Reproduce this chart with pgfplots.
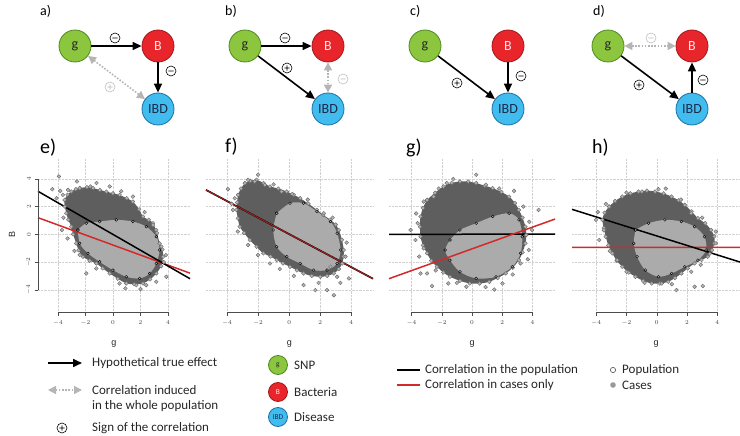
\documentclass[border=0pt]{standalone}
\usepackage{pgfplots}
\pgfplotsset{compat=1.18}
\usepackage{fontspec}
\setmainfont{Carlito}
\newfontfamily\arial{Liberation Sans}
\usetikzlibrary{arrows.meta}

\definecolor{popgray}{HTML}{5E5E5E}
\definecolor{casegray}{HTML}{ABABAB}
\definecolor{ptgray}{HTML}{6A6A6A}
\definecolor{ptfill}{HTML}{B4B4B4}
\definecolor{linered}{HTML}{D22A2A}
\definecolor{snpgreen}{HTML}{8CC63F}
\definecolor{snpedge}{HTML}{4E8A1E}
\definecolor{bacred}{HTML}{E8252A}
\definecolor{bacedge}{HTML}{A3181C}
\definecolor{ibdblue}{HTML}{40BDEE}
\definecolor{ibdedge}{HTML}{1E6FA8}
\definecolor{ibdtext}{HTML}{1A2B4C}
\definecolor{corrgray}{HTML}{B5B5B5}

\pgfplotsset{
  panel/.style={
    scale only axis, height=154pt,
    ymin=-5.6, ymax=5.5,
    axis x line*=bottom, axis y line*=left,
    axis line style={draw=none},
    xtick={-4,-2,0,2,4}, ytick={-4,-2,0,2,4},
    tick align=outside, major tick length=3.5pt,
    tick style={black!70, line width=0.5pt},
    grid=major, major grid style={densely dotted, black!18, line width=0.5pt},
    x tick label style={font=\arial\fontsize{6}{7}\selectfont, text=black!75, yshift=-1.5pt},
    y tick label style={font=\arial\fontsize{6}{7}\selectfont, text=black!75, rotate=90, anchor=south},
    xlabel={g}, xlabel style={font=\arial\fontsize{9}{10}\selectfont, text=black!85, yshift=-9pt},
    clip=false,
  },
  noy/.style={yticklabels={}, y tick style={draw=none}},
  pop/.style={fill=popgray, draw=none, smooth, tension=0.5, mark=*, mark size=1.9pt,
    mark options={fill=ptfill, draw=ptgray, line width=0.4pt}},
  cas/.style={fill=casegray, draw=none, smooth, tension=0.5, mark=*, mark size=1.4pt,
    mark options={fill=casegray, draw=none}},
  pts/.style={only marks, mark=*, mark size=1.9pt,
    mark options={fill=ptfill, draw=ptgray, line width=0.4pt}},
  blk/.style={black, line width=1.5pt, no marks},
  rdl/.style={linered, line width=1.5pt, no marks},
}

\tikzset{
  nd/.style={circle, minimum size=32pt, inner sep=0pt, line width=0.8pt, font=\fontsize{14}{14}\selectfont},
  gn/.style={nd, fill=snpgreen, draw=snpedge, text=black!85},
  bn/.style={nd, fill=bacred, draw=bacedge, text=white!92!red},
  ibdn/.style={nd, fill=ibdblue, draw=ibdedge, text=ibdtext},
  small/.style={minimum size=19pt, font=\fontsize{7.5}{8}\selectfont},
  tru/.style={line width=1.6pt, -{Triangle[length=9pt,width=8pt]}},
  cor/.style={corrgray, line width=1.6pt, dash pattern=on 1.6pt off 1.6pt,
    {Triangle[length=8pt,width=8pt]}-{Triangle[length=8pt,width=8pt]}},
  lab/.style={anchor=west, font=\fontsize{14}{14}\selectfont, inner sep=0pt},
  biglab/.style={anchor=west, font=\fontsize{20}{20}\selectfont, inner sep=0pt},
  leg/.style={anchor=west, font=\fontsize{13}{15}\selectfont, inner sep=0pt, text=black!85},
}

\newcommand{\sgnm}[3][black]{\draw[#1, line width=0.6pt] (#2,#3) circle (5pt) ({#2-2.6},#3) -- ({#2+2.6},#3);}
\newcommand{\sgnp}[3][black]{\draw[#1, line width=0.6pt] (#2,#3) circle (5pt) ({#2-2.6},#3) -- ({#2+2.6},#3) (#2,{#3-2.6}) -- (#2,{#3+2.6});}

\begin{document}
\begin{tikzpicture}
\path[use as bounding box] (0,0) rectangle (740pt,-436pt);

% ---------- panel e ----------
\begin{axis}[panel, at={(38pt,-312pt)}, anchor=south west, width=152pt,
  xmin=-5.45, xmax=5.6]
\addplot[pop] coordinates {(-2.42,3.33) (-1.9,3.4) (-1.45,3.33) (-0.95,3.2) (-0.48,3.08)
  (0.0,2.95) (0.48,2.84) (1.0,2.6) (1.45,2.36) (1.9,1.8) (2.18,1.28) (2.6,1.05) (2.91,0.8)
  (3.2,0.1) (3.39,-0.65) (3.6,-1.1) (3.64,-1.61) (3.5,-2.3) (3.15,-2.82) (2.7,-3.25)
  (2.18,-3.54) (1.55,-3.6) (0.97,-3.54) (0.35,-3.2) (-0.24,-2.82) (-0.75,-2.45)
  (-1.21,-2.1) (-1.7,-1.9) (-2.18,-1.61) (-2.5,-1.15) (-2.67,-0.65) (-2.9,0.0)
  (-3.03,0.55) (-3.25,1.05) (-3.39,1.52) (-3.5,2.0) (-3.52,2.48) (-3.3,2.85) (-3.03,3.08)
  (-2.7,3.25) (-2.42,3.33)};
\addplot[cas] coordinates {(-2.55,0.31) (-1.94,0.8) (-0.97,0.92) (0.24,1.04) (1.45,0.92)
  (2.42,0.55) (3.15,-0.17) (3.39,-1.13) (3.15,-2.1) (2.67,-2.82) (1.94,-3.18) (0.97,-3.06)
  (0,-2.58) (-0.97,-1.98) (-1.82,-1.37) (-2.42,-0.65) (-2.55,0.31)};
\addplot[pts] coordinates {(-3.93,4.17) (-4.41,3.25) (-3.83,3.13) (-3.64,2.84) (-3.27,3.2)
  (-2.62,3.81) (-1.65,3.45) (-3.71,0.31) (-2.42,-1.49) (-1.21,-2.46) (0.48,-3.54)
  (1.7,-3.66) (2.42,-3.66) (3.15,-3.42) (3.88,-3.06) (3.52,-0.89) (3.15,0.31) (2.91,0.67)
  (-1.94,-2.82) (-0.24,3.45) (1.45,2.72) (-3.6,1.2) (-3.3,-0.3) (-2.8,-1.2) (0.9,-3.9)
  (2.0,-3.95) (3.7,-2.0) (3.85,-1.5) (2.3,1.6) (0.6,3.1) (-1.2,3.7) (-4.1,2.6)};
\addplot[rdl] coordinates {(-5.45,1.2) (5.6,-2.8)};
\addplot[blk] coordinates {(-5.45,3.1) (5.6,-3.2)};
\draw[black!70, line width=0.5pt] (axis cs:-4,-5.6) -- (axis cs:4,-5.6);
\draw[black!70, line width=0.5pt] (axis cs:-5.45,-4) -- (axis cs:-5.45,4);
\end{axis}

% ---------- panel f ----------
\begin{axis}[panel, noy, at={(206pt,-312pt)}, anchor=south west, width=167pt,
  xmin=-5.35, xmax=5.4]
\addplot[pop] coordinates {(-2.85,3.69) (-2.5,3.85) (-2.1,3.93) (-1.65,3.7) (-1.23,3.45)
  (-0.7,3.3) (-0.15,3.08) (0.3,2.85) (0.71,2.6) (1.25,2.2) (1.79,1.76) (2.2,1.4)
  (2.66,1.04) (3.0,0.7) (3.2,0.31) (3.4,-0.4) (3.52,-1.13) (3.5,-1.6) (3.42,-2.1)
  (3.2,-2.5) (2.88,-2.82) (2.45,-3.0) (2.01,-3.06) (1.45,-3.0) (0.93,-2.82) (0.5,-2.6)
  (0.06,-2.34) (-0.4,-2.1) (-0.8,-1.86) (-1.2,-1.6) (-1.66,-1.37) (-2.1,-0.9)
  (-2.53,-0.41) (-2.9,0.1) (-3.18,0.55) (-3.3,1.15) (-3.39,1.76) (-3.35,2.3) (-3.29,2.84)
  (-3.1,3.3) (-2.85,3.69)};
\addplot[cas] coordinates {(-0.8,1.52) (0.06,2.24) (0.93,2.24) (1.79,1.64) (2.66,0.92)
  (3.09,0.07) (3.31,-1.13) (3.09,-2.1) (2.44,-2.58) (1.58,-2.58) (0.71,-2.1) (-0.15,-1.61)
  (-0.8,-0.89) (-1.02,0.31) (-0.8,1.52)};
\addplot[pts] coordinates {(-3.94,3.25) (-3.5,2.6) (-2.21,3.81) (-1.56,3.57) (-0.48,3.08)
  (2.23,1.52) (3.63,-1.61) (3.85,-3.18) (2.88,-4.39) (2.44,-4.02) (1.69,-4.02) (0.93,-3.66)
  (-1.23,-2.1) (-2.64,-0.77) (-3.61,1.76) (3.09,-3.06) (2.66,-2.34) (-2.64,3.93) (0.2,2.9)
  (-2.0,4.3) (-1.0,3.6) (1.2,2.5) (2.8,1.2) (3.7,-0.6) (3.3,-3.5) (0.3,-3.0) (-0.6,-2.5)
  (-2.0,-1.5) (-3.3,0.2) (-3.7,2.2) (1.9,-3.5)};
\addplot[blk, line width=1.7pt] coordinates {(-5.35,3.2) (5.4,-3.2)};
\addplot[linered!75!black, line width=1.1pt, no marks] coordinates {(-5.35,3.2) (5.4,-3.2)};
\draw[black!70, line width=0.5pt] (axis cs:-4,-5.6) -- (axis cs:4,-5.6);
\end{axis}

% ---------- panel g ----------
\begin{axis}[panel, noy, at={(389pt,-312pt)}, anchor=south west, width=166pt,
  xmin=-5.5, xmax=5.5]
\addplot[pop] coordinates {(-2.98,2.48) (-2.45,3.0) (-1.89,3.45) (-1.35,3.7) (-0.8,3.81)
  (-0.25,3.8) (0.28,3.69) (0.85,3.5) (1.37,3.33) (1.95,3.05) (2.46,2.72) (2.85,2.25)
  (3.11,1.76) (3.35,1.2) (3.54,0.55) (3.6,-0.05) (3.54,-0.65) (3.35,-1.3) (3.11,-1.86)
  (2.7,-2.4) (2.24,-2.82) (1.7,-3.15) (1.15,-3.42) (0.5,-3.55) (-0.15,-3.54) (-0.8,-3.35)
  (-1.46,-3.06) (-1.9,-2.75) (-2.33,-2.34) (-2.7,-1.9) (-2.98,-1.37) (-3.25,-0.8)
  (-3.41,-0.17) (-3.45,0.55) (-3.41,1.28) (-3.25,1.9) (-2.98,2.48)};
\addplot[cas] coordinates {(-1.46,-0.41) (-0.8,0.31) (0.28,0.8) (1.37,1.28) (2.46,1.52)
  (3.11,1.04) (3.33,-0.17) (3.22,-1.37) (2.67,-2.34) (1.59,-3.06) (0.28,-3.18) (-0.8,-2.7)
  (-1.46,-1.86) (-1.78,-1.13) (-1.46,-0.41)};
\addplot[pts] coordinates {(0.28,4.29) (-1.24,3.98) (-1.67,3.69) (-2.54,2.72) (-3.2,2.36)
  (0.93,3.57) (2.78,3.13) (4.41,1.76) (-4.07,0.31) (-3.74,-0.41) (-3.2,-1.01) (-3.41,-2.82)
  (-2.98,-2.82) (-2.65,-3.73) (-1.57,-3.54) (-0.37,-3.78) (1.48,-3.98) (2.02,-3.54)
  (3.22,-2.1) (3.76,-1.13) (3.98,0.31) (-3.7,1.5) (-3.6,0.8) (-2.2,3.3) (1.8,3.3)
  (3.4,2.0) (3.8,0.9) (3.7,-1.8) (2.7,-2.9) (0.9,-3.8) (-1.0,-3.5) (-2.4,-2.6) (-3.5,-1.6)};
\addplot[blk] coordinates {(-5.5,0) (5.5,0.01)};
\addplot[rdl] coordinates {(-5.5,-3.2) (5.5,1.1)};
\draw[black!70, line width=0.5pt] (axis cs:-4,-5.6) -- (axis cs:4,-5.6);
\end{axis}

% ---------- panel h ----------
\begin{axis}[panel, noy, at={(572pt,-312pt)}, anchor=south west, width=168pt,
  xmin=-5.6, xmax=5.5]
\addplot[pop] coordinates {(-3.15,2.0) (-2.75,2.4) (-2.28,2.72) (-1.75,2.95) (-1.2,3.08)
  (-0.65,3.15) (-0.11,3.08) (0.45,2.95) (0.98,2.72) (1.45,2.45) (1.85,2.12) (2.3,1.65)
  (2.72,1.16) (3.2,0.8) (3.59,0.31) (3.8,-0.15) (3.8,-0.65) (3.65,-1.15) (3.37,-1.61)
  (2.95,-1.85) (2.5,-2.1) (2.05,-2.45) (1.63,-2.82) (1.2,-3.15) (0.76,-3.42) (0.2,-3.55)
  (-0.33,-3.54) (-0.9,-3.35) (-1.41,-3.06) (-1.85,-2.75) (-2.28,-2.34) (-2.65,-1.9)
  (-2.93,-1.37) (-3.2,-0.8) (-3.37,-0.17) (-3.5,0.45) (-3.59,1.04) (-3.45,1.55) (-3.15,2.0)};
\addplot[cas] coordinates {(-1.41,0.31) (-0.54,0.8) (0.54,1.04) (1.63,0.92) (2.5,0.55)
  (3.15,-0.17) (3.26,-1.13) (2.72,-1.86) (1.85,-2.34) (0.98,-2.82) (0.11,-3.06)
  (-0.76,-2.58) (-1.3,-1.61) (-1.52,-0.65) (-1.41,0.31)};
\addplot[pts] coordinates {(-3.37,2.19) (-4.02,1.04) (-3.8,-0.41) (-2.61,-1.86) (0.11,3.25)
  (-0.98,3.08) (2.28,1.52) (3.91,-0.65) (3.04,-3.73) (2.5,-3.78) (1.3,-4.02) (0.33,-3.54)
  (2.28,-2.7) (-3.5,0.3) (3.9,0.2) (-2.0,3.0) (0.6,3.3) (1.6,2.5) (3.0,1.2) (3.5,-1.4)
  (2.9,-2.2) (1.0,-3.6) (-0.8,-3.5) (-2.0,-2.7) (-3.1,-1.2) (-3.9,1.6)};
\addplot[rdl] coordinates {(-5.6,-0.95) (5.5,-0.94)};
\addplot[blk] coordinates {(-5.6,1.8) (5.5,-2.0)};
\draw[black!70, line width=0.5pt] (axis cs:-4,-5.6) -- (axis cs:4,-5.6);
\end{axis}

\begin{scope}[x=1pt, y=-1pt]
% panel letters
\node[lab] at (40,11) {a)};
\node[lab] at (225,11) {b)};
\node[lab] at (410,11) {c)};
\node[lab] at (593,11) {d)};
\node[biglab] at (40,148) {e)};
\node[biglab] at (225,147) {f)};
\node[biglab] at (406,148) {g)};
\node[biglab] at (592,148) {h)};
\node[rotate=90, font=\arial\fontsize{9}{10}\selectfont, text=black!85] at (12,234) {B};

% a)
\node[gn] (ag) at (75,46) {g};
\node[bn] (aB) at (158,46) {B};
\node[ibdn] (aI) at (158,109) {IBD};
\draw[tru] (ag) -- (aB);
\draw[tru] (aB) -- (aI);
\draw[cor] (ag) -- (aI);
\sgnm{115}{38}
\sgnm{171}{71}
\sgnp[black!25]{110}{87}

% b)
\node[gn] (bg) at (245,46) {g};
\node[bn] (bB) at (328,46) {B};
\node[ibdn] (bI) at (328,109) {IBD};
\draw[tru] (bg) -- (bB);
\draw[tru] (bg) -- (bI);
\draw[cor] (bB) -- (bI);
\sgnm{285}{38}
\sgnp{287}{68}
\sgnm[black!25]{343}{79}

% c)
\node[gn] (cg) at (425,46) {g};
\node[bn] (cB) at (508,46) {B};
\node[ibdn] (cI) at (508,109) {IBD};
\draw[tru] (cg) -- (cI);
\draw[tru] (cB) -- (cI);
\sgnp{457}{83}
\sgnm{521}{76}

% d)
\node[gn] (dg) at (608,46) {g};
\node[bn] (dB) at (692,46) {B};
\node[ibdn] (dI) at (692,109) {IBD};
\draw[cor] (dg) -- (dB);
\draw[tru] (dg) -- (dI);
\draw[tru] (dI) -- (dB);
\sgnm[black!25]{651}{38}
\sgnp{639}{85}
\sgnm{703}{80}

% legend, left
\draw[tru] (48,363) -- (82,363);
\node[leg] at (92,363) {Hypothetical true effect};
\draw[cor] (48,390) -- (82,390);
\node[leg] at (92,390) {Correlation induced};
\node[leg] at (92,406) {in the whole population};
\sgnp{62}{428}
\node[leg] at (92,428) {Sign of the correlation};
\node[gn, small] at (278,365) {g};
\node[leg] at (294,365) {SNP};
\node[bn, small] at (278,392) {B};
\node[leg] at (294,392) {Bacteria};
\node[ibdn, small] at (278,417) {IBD};
\node[leg] at (294,417) {Disease};

% legend, right
\draw[black, line width=1.3pt] (397,370) -- (420,370);
\node[leg] at (425,370) {Correlation in the population};
\draw[linered, line width=1.3pt] (397,385) -- (420,385);
\node[leg] at (425,385) {Correlation in cases only};
\draw[black!70, line width=0.6pt] (613,370) circle (2.6pt);
\node[leg] at (622,370) {Population};
\fill[black!40] (613,385) circle (2.8pt);
\node[leg] at (622,385) {Cases};
\end{scope}
\end{tikzpicture}
\end{document}
